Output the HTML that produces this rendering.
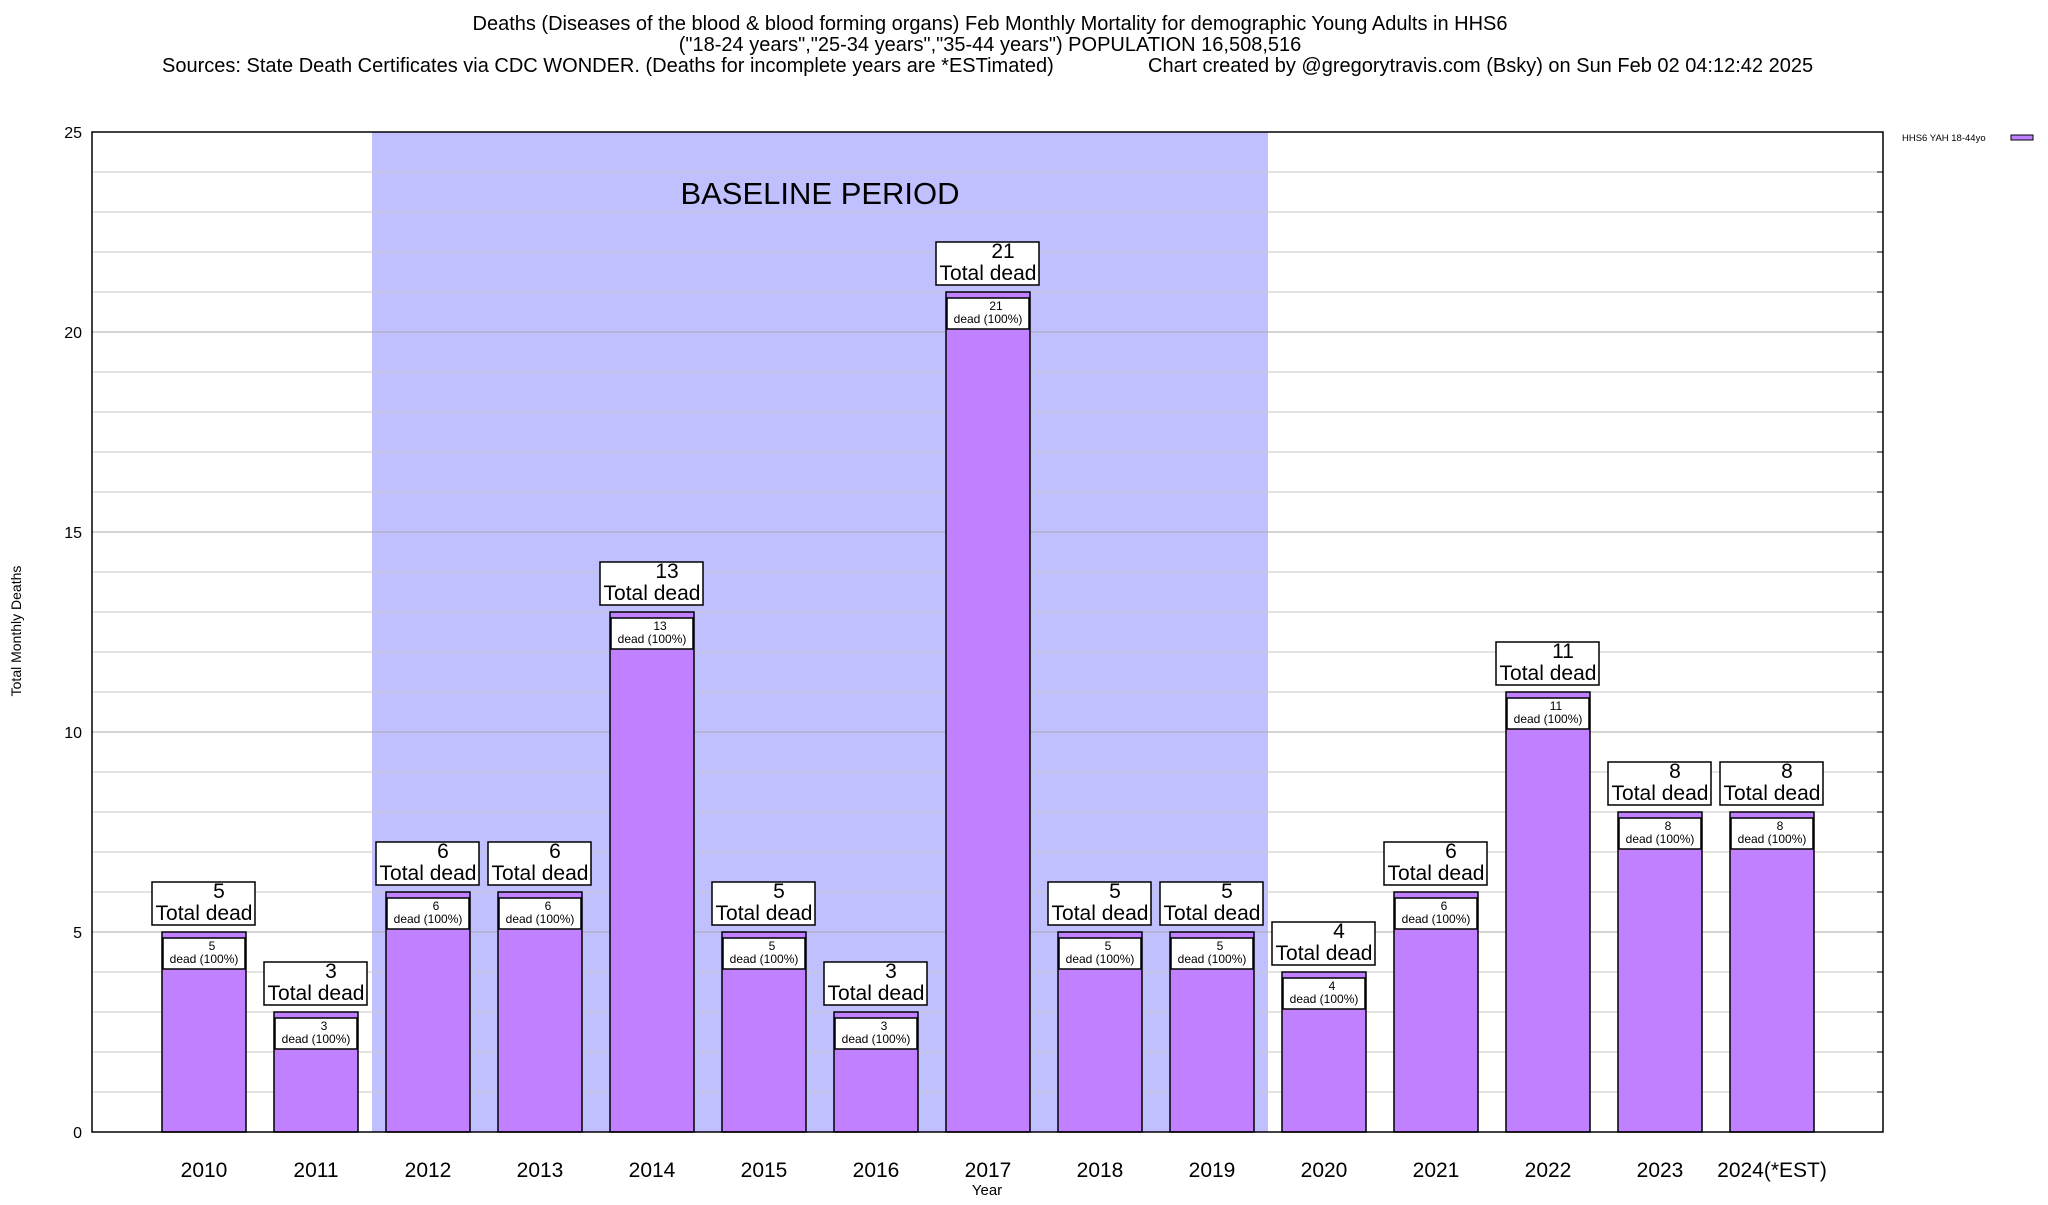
<!DOCTYPE html>
<html><head><meta charset="utf-8"><style>
body{margin:0;background:#fff}
svg text{font-family:"Liberation Sans",sans-serif;fill:#000}
</style></head><body>
<svg id="chart" width="2048" height="1200" xmlns="http://www.w3.org/2000/svg">
<rect width="2048" height="1200" fill="#fff"/>
<g font-size="20">
<text x="990" y="30" text-anchor="middle">Deaths (Diseases of the blood &amp; blood forming organs) Feb Monthly Mortality for demographic Young Adults in HHS6</text>
<text x="990" y="51" text-anchor="middle">("18-24 years","25-34 years","35-44 years") POPULATION 16,508,516</text>
<text x="162" y="72">Sources: State Death Certificates via CDC WONDER. (Deaths for incomplete years are *ESTimated)</text>
<text x="1148" y="72">Chart created by @gregorytravis.com (Bsky) on Sun Feb 02 04:12:42 2025</text>
</g>
<rect x="372" y="132" width="896" height="1000" fill="#c0c0ff"/>
<text x="820" y="204" text-anchor="middle" font-size="31">BASELINE PERIOD</text>
<g id="grid"></g>
<g id="bars"></g>
<rect x="92" y="132" width="1791" height="1000" fill="none" stroke="#000" stroke-width="1.5"/>
<g id="ticks"></g>
<text transform="translate(21,631) rotate(-90)" text-anchor="middle" font-size="14">Total Monthly Deaths</text>
<text x="987" y="1195" text-anchor="middle" font-size="15">Year</text>
<g>
<text x="1902" y="141" font-size="9.5">HHS6 YAH 18-44yo</text>
<rect x="2011" y="135" width="22" height="5" fill="#c080ff" stroke="#000" stroke-width="1"/>
</g>
</svg>
<script>
const categories=["2010","2011","2012","2013","2014","2015","2016","2017","2018","2019","2020","2021","2022","2023","2024(*EST)"];
const deaths=[5,3,6,6,13,5,3,21,5,5,4,6,11,8,8];
const yTicks=[0,5,10,15,20,25];
const NS="http://www.w3.org/2000/svg";
const X0=92,X1=1883,Y0=1132,Y1=132,YMAX=25;
function y(v){return Y0-(v/YMAX)*(Y0-Y1);}
function xc(i){return 204+i*112;}
function mk(tag,attrs,parent,txt){const e=document.createElementNS(NS,tag);for(const k in attrs)e.setAttribute(k,attrs[k]);if(txt!==undefined)e.textContent=txt;parent.appendChild(e);return e;}
const grid=document.getElementById('grid'),bars=document.getElementById('bars'),ticks=document.getElementById('ticks');
for(let v=1;v<YMAX;v++){
 const l=mk('line',{x1:X0,x2:X1,y1:y(v),y2:y(v),stroke:v%5===0?'#a8a8a8':'#c8c8c8','stroke-width':1},grid);
 
 
}
yTicks.forEach(v=>{
 const t=mk('text',{x:82,y:y(v)+6,'text-anchor':'end','font-size':16},ticks,String(v));
 
 
});
for(let v=1;v<YMAX;v++){
 mk('line',{x1:X1-6,x2:X1,y1:y(v),y2:y(v),stroke:'#000'},ticks);
}
categories.forEach((c,i)=>{
 const cx=xc(i),v=deaths[i],top=y(v);
 const g=mk('g',{},bars);
 
 
 mk('rect',{x:cx-42,y:top,width:84,height:Y0-top,fill:'#c080ff',stroke:'#000','stroke-width':1.5},g);
 mk('rect',{x:cx-41,y:top+6,width:82,height:31,fill:'#fff',stroke:'#000','stroke-width':1.5},g);
 mk('text',{x:cx+8,y:top+18,'text-anchor':'middle','font-size':12},g,String(v));
 mk('text',{x:cx,y:top+31,'text-anchor':'middle','font-size':12},g,'dead (100%)');
 const lb=mk('g',{},bars);
 
 
 mk('rect',{x:cx-52,y:top-50,width:103,height:43,fill:'#fff',stroke:'#000','stroke-width':1.5},lb);
 mk('text',{x:cx+15,y:top-34,'text-anchor':'middle','font-size':21},lb,String(v));
 mk('text',{x:cx,y:top-12,'text-anchor':'middle','font-size':21},lb,'Total dead');
 const t=mk('text',{x:cx,y:1177,'text-anchor':'middle','font-size':21},ticks,c);
 
 
});
</script>
</body></html>
